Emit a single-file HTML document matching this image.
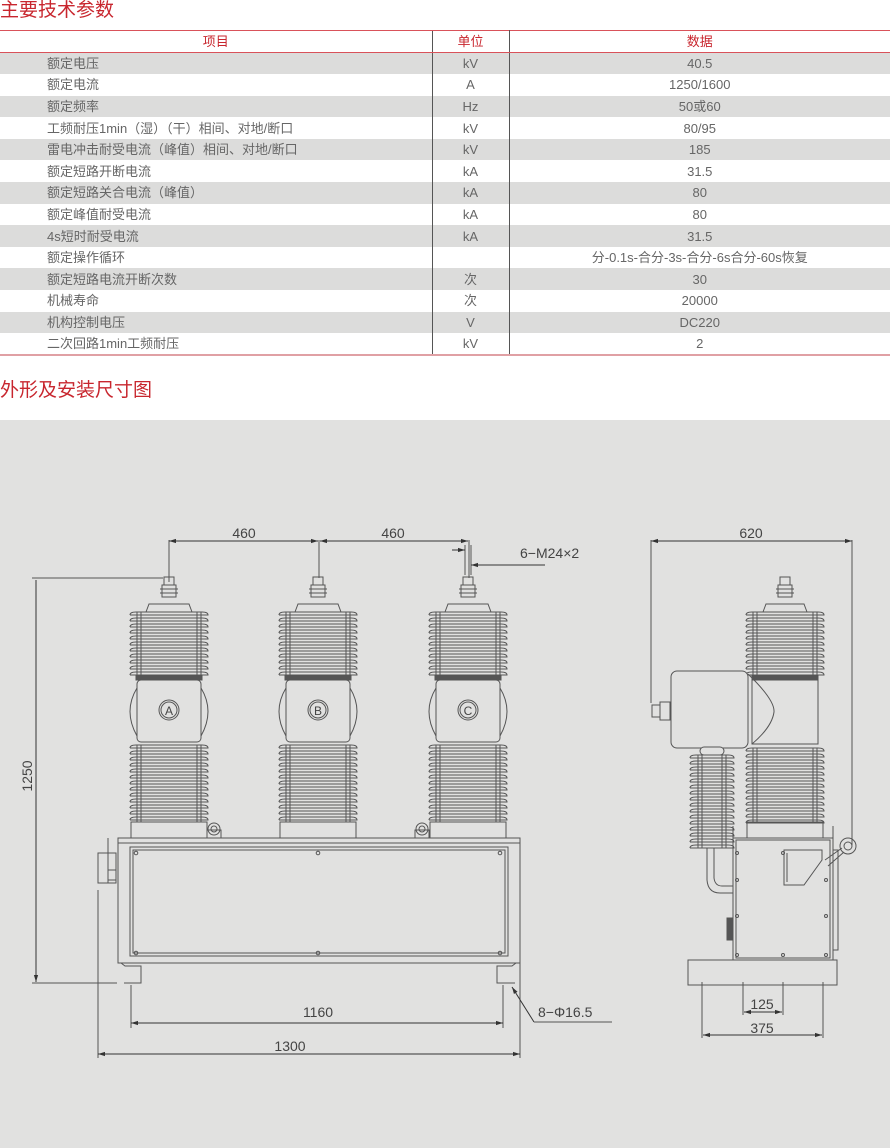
<!DOCTYPE html>
<html><head><meta charset="utf-8">
<style>
*{margin:0;padding:0;box-sizing:border-box}
body{width:890px;height:1148px;background:#fff;font-family:"Liberation Sans","Noto Sans CJK SC",sans-serif;position:relative;overflow:hidden;color:#666}
.h{position:absolute;left:0;color:#c8262e;font-size:19px;line-height:22px}
table{position:absolute;left:0;top:30px;width:890px;border-collapse:collapse;font-size:13px}
td,th{height:21.6px;padding:0;line-height:21px;font-weight:normal}
th{color:#c8262e;border-top:1px solid #d9525a;border-bottom:1px solid #d9525a}
tr.g td{background:#dcdcdb}
td.a{padding-left:47px;text-align:left}
td.b,th.b{border-left:1px solid #555;border-right:1px solid #555;text-align:center;width:77px}
td.c{text-align:center}
tr:last-child td{border-bottom:2px solid #e0a0a4}
#d{position:absolute;left:0;top:420px;width:890px;height:728px;background:#e1e1e0}
</style></head><body>
<div class="h" style="top:0">主要技术参数</div>
<table>
<tr><th style="width:432px">项目</th><th class="b">单位</th><th>数据</th></tr>
<tr class="g"><td class="a">额定电压</td><td class="b">kV</td><td class="c">40.5</td></tr>
<tr><td class="a">额定电流</td><td class="b">A</td><td class="c">1250/1600</td></tr>
<tr class="g"><td class="a">额定频率</td><td class="b">Hz</td><td class="c">50或60</td></tr>
<tr><td class="a">工频耐压1min（湿）（干）相间、对地/断口</td><td class="b">kV</td><td class="c">80/95</td></tr>
<tr class="g"><td class="a">雷电冲击耐受电流（峰值）相间、对地/断口</td><td class="b">kV</td><td class="c">185</td></tr>
<tr><td class="a">额定短路开断电流</td><td class="b">kA</td><td class="c">31.5</td></tr>
<tr class="g"><td class="a">额定短路关合电流（峰值）</td><td class="b">kA</td><td class="c">80</td></tr>
<tr><td class="a">额定峰值耐受电流</td><td class="b">kA</td><td class="c">80</td></tr>
<tr class="g"><td class="a">4s短时耐受电流</td><td class="b">kA</td><td class="c">31.5</td></tr>
<tr><td class="a">额定操作循环</td><td class="b"></td><td class="c">分-0.1s-合分-3s-合分-6s合分-60s恢复</td></tr>
<tr class="g"><td class="a">额定短路电流开断次数</td><td class="b">次</td><td class="c">30</td></tr>
<tr><td class="a">机械寿命</td><td class="b">次</td><td class="c">20000</td></tr>
<tr class="g"><td class="a">机构控制电压</td><td class="b">V</td><td class="c">DC220</td></tr>
<tr><td class="a">二次回路1min工频耐压</td><td class="b">kV</td><td class="c">2</td></tr>
</table>
<div class="h" style="top:380px">外形及安装尺寸图</div>
<div id="d"></div>
<svg id="s" width="890" height="1148" style="position:absolute;left:0;top:0" xmlns="http://www.w3.org/2000/svg">
<defs><marker id="ar" viewBox="0 0 10 10" refX="10" refY="5" markerWidth="7" markerHeight="7" orient="auto-start-reverse"><path d="M0,2L10,5L0,8z" fill="#333"/></marker></defs>
<g id="g" fill="none" stroke="#555" stroke-width="1"></g>
<g font-family="Liberation Sans" font-size="14" fill="#444" text-anchor="middle">
<text x="244" y="538">460</text><text x="393" y="538">460</text>
<text x="520" y="558" text-anchor="start">6−M24×2</text>
<text x="751" y="538">620</text>
<text x="318" y="1017">1160</text><text x="290" y="1051">1300</text>
<text x="538" y="1017" text-anchor="start">8−Φ16.5</text>
<text x="762" y="1009">125</text><text x="762" y="1033">375</text>
<text x="0" y="0" transform="translate(32,776) rotate(-90)">1250</text>
<g font-size="12"><text x="169" y="715">A</text><text x="318" y="715">B</text><text x="468" y="715">C</text></g>
</g>
</svg>
<script>
var g=document.getElementById('g'),h='';
function L(a,b,c,d,m){h+='<line x1="'+a+'" y1="'+b+'" x2="'+c+'" y2="'+d+'"'+(m?' marker-start="url(#ar)" marker-end="url(#ar)" stroke="#333"':'')+'/>';}
function R(x,y,w,hh,f,rx){h+='<rect x="'+x+'" y="'+y+'" width="'+w+'" height="'+hh+'"'+(f?' fill="'+f+'"':'')+(rx?' rx="'+rx+'"':'')+'/>';}
function C(x,y,r){h+='<circle cx="'+x+'" cy="'+y+'" r="'+r+'"/>';}
function sheds(cx,y1,y2,w,core){R(cx-core,y1,core*2,y2-y1,'#e1e1e0');for(var y=y1;y<y2;y+=6){h+='<path d="M'+(cx-w)+','+(y+3)+' Q'+(cx-w)+','+y+' '+(cx-w+6)+','+y+' L'+(cx+w-6)+','+y+' Q'+(cx+w)+','+y+' '+(cx+w)+','+(y+3)+' L'+(cx-w)+','+(y+3)+'"/>';}L(cx-core+4,y1,cx-core+4,y2);L(cx+core-4,y1,cx+core-4,y2);}
function pole(cx,withTop){
 R(cx-5,577,10,8);R(cx-7,585,14,12);L(cx-9,589,cx+9,589);L(cx-9,593,cx+9,593);
 h+='<path d="M'+(cx-23)+',612 L'+(cx-20)+',604 L'+(cx+20)+',604 L'+(cx+23)+',612"/>';
 sheds(cx,612,676,39,32);
 R(cx-33,676,66,4,'#555');
 R(cx-32,680,64,62,'#e1e1e0',4);
 h+='<path d="M'+(cx-32)+',688 Q'+(cx-46)+',711 '+(cx-32)+',736"/><path d="M'+(cx+32)+',688 Q'+(cx+46)+',711 '+(cx+32)+',736"/>';
 C(cx,710,10);C(cx,710,8);
 sheds(cx,745,822,39,32);
 R(cx-38,822,76,16);
}
if(1){
pole(169);pole(318);pole(468);
C(214,829,6);C(214,829,3);C(422,829,6);C(422,829,3);R(207,830,14,8);R(415,830,14,8);
R(118,838,402,5);R(118,843,402,120);R(130,847,378,109);R(133,850,372,103);
[[136,850],[318,850],[500,850],[136,950],[318,950],[500,950]].forEach(function(p){C(p[0],p[1]+3,1.8);});
R(98,853,18,30);R(108,870,8,10);L(108,838,108,883);
h+='<path d="M121,963 L125,966 L141,966 L141,983 L124,983"/><path d="M516,963 L512,966 L497,966 L497,983 L515,983"/>';
L(169,582,169,540);L(319,578,319,540);L(469,578,469,540);
L(169,541,318,541,1);L(320,541,468,541,1);
L(465,545,465,575);L(471,545,471,575);h+='<line x1="452" y1="550" x2="465" y2="550" marker-end="url(#ar)" stroke="#333"/><line x1="545" y1="565" x2="471" y2="565" marker-end="url(#ar)" stroke="#333"/>';
L(32,578,163,578);L(32,983,117,983);h+='<line x1="36" y1="580" x2="36" y2="982" marker-end="url(#ar)" stroke="#333"/>';
L(131,985,131,1028);L(503,985,503,1028);L(131,1023,503,1023,1);
L(98,890,98,1058);L(520,963,520,1058);L(98,1054,520,1054,1);
h+='<line x1="534" y1="1022" x2="512" y2="987" marker-end="url(#ar)" stroke="#333"/>';L(534,1022,612,1022);
var cx=785;
L(651,541,852,541,1);L(651,540,651,703);L(852,540,852,845);
R(cx-5,577,10,8);R(cx-7,585,14,12);L(cx-9,589,cx+9,589);L(cx-9,593,cx+9,593);
h+='<path d="M'+(cx-22)+',612 L'+(cx-19)+',604 L'+(cx+19)+',604 L'+(cx+22)+',612"/>';
sheds(cx,612,676,39,32);R(cx-33,676,66,4,'#555');R(cx-33,680,66,64,'#e1e1e0');
sheds(cx,748,822,39,32);R(cx-38,822,76,16);
R(671,671,77,77,'#e1e1e0',6);h+='<path d="M748,674 Q775,700 774,712 Q772,727 752,744" />';
R(652,705,8,12);R(660,702,10,18);
R(700,747,24,8,'#e1e1e0',4);sheds(712,755,848,22,14);
h+='<path d="M707,848 L707,880 Q708,893 720,893 L733,893 M714,848 L714,878 Q715,886 722,886 L733,886"/>';
R(733,838,100,122);R(736,840,94,118);L(733,838,733,826);L(833,838,833,826);
h+='<path d="M784,850 L822,850 L822,860 L804,885 L784,885 Z M787,853 L787,882"/>';
C(848,846,8);C(848,846,4);h+='<path d="M825,860 L842,848 M828,866 L844,852"/>';
R(833,850,5,100);R(727,918,6,22,'#555');
[[737,853],[737,880],[737,916],[737,955],[783,853],[783,955],[826,880],[826,916],[826,955]].forEach(function(p){C(p[0],p[1],1.5);});
R(688,960,149,25);
L(702,982,702,1038);L(743,982,743,1015);L(783,982,783,1015);L(823,982,823,1038);
L(744,1012,782,1012,1);L(703,1035,822,1035,1);
}
g.innerHTML=h;
</script>
</body></html>
